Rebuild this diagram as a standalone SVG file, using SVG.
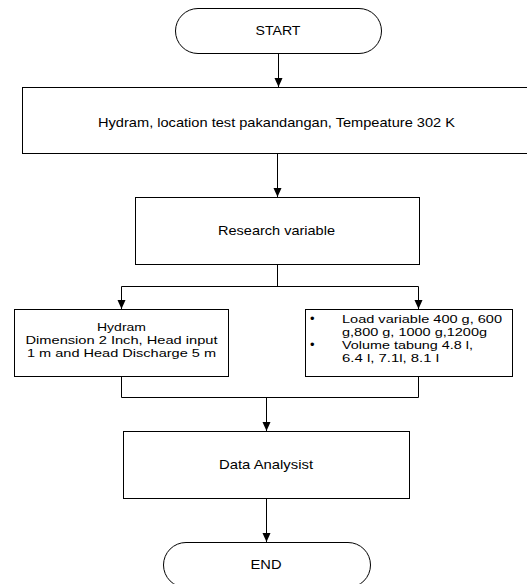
<svg xmlns="http://www.w3.org/2000/svg" width="527" height="584" viewBox="0 0 527 584">
<style>
.box{fill:#fff;stroke:#000;stroke-width:1}
.ln{fill:none;stroke:#000;stroke-width:1}
text{font-family:"Liberation Sans",Arial,sans-serif;font-size:13px;fill:#000}
.c{text-anchor:middle}
.s{font-size:11.2px}
</style>
<defs>
<marker id="ah" markerWidth="10" markerHeight="10" refX="9" refY="5" orient="auto" markerUnits="userSpaceOnUse">
<path d="M0,1 L9,5 L0,9 z" fill="#000"/>
</marker>
</defs>
<rect width="527" height="584" fill="#fff"/>
<g id="connectors">
<line class="ln" x1="278.5" y1="53" x2="278.5" y2="87" marker-end="url(#ah)"/>
<line class="ln" x1="277.5" y1="153" x2="277.5" y2="197" marker-end="url(#ah)"/>
<polyline class="ln" points="277.5,264 277.5,286.5"/>
<polyline class="ln" points="121.5,286.5 418.5,286.5"/>
<line class="ln" x1="121.5" y1="286.5" x2="121.5" y2="309" marker-end="url(#ah)"/>
<line class="ln" x1="418.5" y1="286.5" x2="418.5" y2="309" marker-end="url(#ah)"/>
<polyline class="ln" points="121.5,376 121.5,397.5 418.5,397.5 418.5,376"/>
<line class="ln" x1="266.5" y1="397.5" x2="266.5" y2="431" marker-end="url(#ah)"/>
<line class="ln" x1="266.5" y1="498" x2="266.5" y2="542" marker-end="url(#ah)"/>
</g>
<g id="start">
<rect class="box" x="175.5" y="8.5" width="206" height="45" rx="22.5" ry="22.5"/>
<text class="c" x="278" y="35" textLength="45" lengthAdjust="spacingAndGlyphs">START</text>
</g>
<g id="hydram-location">
<rect class="box" x="22.5" y="87.5" width="510" height="66"/>
<text class="c" x="276.5" y="127" textLength="357" lengthAdjust="spacingAndGlyphs">Hydram, location test pakandangan, Tempeature 302 K</text>
</g>
<g id="research-variable">
<rect class="box" x="135.5" y="197.5" width="284" height="67"/>
<text class="c" x="276.5" y="235" textLength="117" lengthAdjust="spacingAndGlyphs">Research variable</text>
</g>
<g id="hydram-dimension">
<rect class="box" x="14.5" y="309.5" width="214" height="67"/>
<text class="c s" x="121.5" y="330.5" textLength="49" lengthAdjust="spacingAndGlyphs">Hydram</text>
<text class="c s" x="121.5" y="343.5" textLength="192" lengthAdjust="spacingAndGlyphs">Dimension 2 Inch, Head input</text>
<text class="c s" x="121.5" y="356.5" textLength="189" lengthAdjust="spacingAndGlyphs">1 m and Head Discharge 5 m</text>
</g>
<g id="load-variable">
<rect class="box" x="305.5" y="309.5" width="207" height="67"/>
<text x="310" y="323">•</text>
<text class="s" x="342" y="322.5" textLength="160" lengthAdjust="spacingAndGlyphs">Load variable 400 g, 600</text>
<text class="s" x="342" y="335.5" textLength="145" lengthAdjust="spacingAndGlyphs">g,800 g, 1000 g,1200g</text>
<text x="310" y="349">•</text>
<text class="s" x="342" y="348.5" textLength="131" lengthAdjust="spacingAndGlyphs">Volume tabung 4.8 l,</text>
<text class="s" x="342" y="361.5" textLength="97" lengthAdjust="spacingAndGlyphs">6.4 l, 7.1l, 8.1 l</text>
</g>
<g id="data-analysist">
<rect class="box" x="123.5" y="431.5" width="286" height="67"/>
<text class="c" x="266" y="469" textLength="94" lengthAdjust="spacingAndGlyphs">Data Analysist</text>
</g>
<g id="end">
<rect class="box" x="163.5" y="542.5" width="207" height="45" rx="22.5" ry="22.5"/>
<text class="c" x="266" y="569" textLength="31" lengthAdjust="spacingAndGlyphs">END</text>
</g>
</svg>
